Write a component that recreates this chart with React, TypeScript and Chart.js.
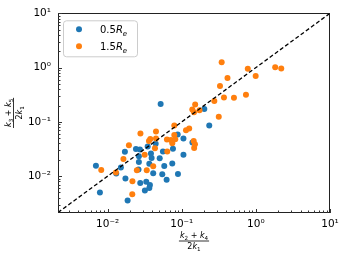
import React, { useEffect, useRef } from 'react';
import { Chart, registerables } from 'chart.js';

Chart.register(...registerables);

const AXIS_MIN = 0.00214;
const AXIS_MAX = 10;
const majorTicks = [0.01, 0.1, 1, 10];
const tickLabels = ['10⁻²', '10⁻¹', '10⁰', '10¹'];

const seriesNames = ['0.5', '1.5'];
const seriesColors = ['#1f77b4', '#ff7f0e'];

const blueX = [0.0519, 0.00695, 0.00787, 0.0186, 0.0171, 0.0151, 0.01306, 0.01738, 0.0241, 0.0273, 0.0264, 0.0264, 0.0261, 0.02754, 0.0318, 0.0332, 0.0372, 0.0365, 0.0347, 0.0384, 0.0392, 0.0365, 0.0412, 0.0445, 0.0504, 0.0557, 0.0581, 0.0546, 0.0625, 0.0745, 0.0761, 0.0881, 0.0889, 0.1054, 0.1054, 0.1393, 0.2014, 0.235];
const blueY = [0.213, 0.01556, 0.00501, 0.00355, 0.0283, 0.01445, 0.01125, 0.00904, 0.0318, 0.0309, 0.0233, 0.01815, 0.0133, 0.0075, 0.00544, 0.0079, 0.0069, 0.00604, 0.0352, 0.0261, 0.0217, 0.0169, 0.01135, 0.0394, 0.0214, 0.0286, 0.01538, 0.0108, 0.0086, 0.01718, 0.0321, 0.0588, 0.01101, 0.0492, 0.0248, 0.0416, 0.173, 0.0853];

const orangeX = [0.0082, 0.01294, 0.01633, 0.01937, 0.0277, 0.0216, 0.0215, 0.0248, 0.0337, 0.0316, 0.0361, 0.0376, 0.0449, 0.0449, 0.0435, 0.0412, 0.0631, 0.0637, 0.0714, 0.0745, 0.0793, 0.0793, 0.0817, 0.114, 0.126, 0.1387, 0.145, 0.147, 0.1507, 0.3455, 0.778, 0.994, 1.822, 2.2, 0.414, 0.3278, 0.371, 0.506, 0.735, 0.275, 0.1517, 0.1734, 0.1462, 0.3157];
const orangeY = [0.01303, 0.01172, 0.02075, 0.0372, 0.061, 0.00807, 0.00464, 0.01286, 0.01286, 0.0248, 0.0443, 0.0485, 0.0665, 0.0496, 0.0327, 0.01517, 0.0475, 0.0286, 0.0465, 0.0405, 0.0853, 0.0573, 0.0478, 0.07, 0.0752, 0.1687, 0.0443, 0.0331, 0.0388, 1.253, 0.949, 0.701, 1.01, 0.965, 0.645, 0.457, 0.281, 0.279, 0.3158, 0.243, 0.2085, 0.164, 0.1509, 0.1236];

type Part = { t: string; it?: boolean; sub?: boolean };
const FONT = '"DejaVu Sans"';

const xTitleNum: Part[] = [{ t: 'k', it: true }, { t: '2', sub: true }, { t: ' + ' }, { t: 'k', it: true }, { t: '4', sub: true }];
const yTitleNum: Part[] = [{ t: 'k', it: true }, { t: '3', sub: true }, { t: ' + ' }, { t: 'k', it: true }, { t: '5', sub: true }];
const titleDen: Part[] = [{ t: '2' }, { t: 'k', it: true }, { t: '1', sub: true }];

function partFont(p: Part, size: number) {
  return `${p.it ? 'italic ' : ''}${p.sub ? (size * 0.7).toFixed(2) : size}px ${FONT}`;
}

function measureParts(ctx: CanvasRenderingContext2D, parts: Part[], size: number) {
  let w = 0;
  for (const p of parts) {
    ctx.font = partFont(p, size);
    w += ctx.measureText(p.t).width;
  }
  return w;
}

function drawParts(ctx: CanvasRenderingContext2D, parts: Part[], x0: number, baseline: number, size: number) {
  let x = x0;
  ctx.textAlign = 'left';
  ctx.textBaseline = 'alphabetic';
  for (const p of parts) {
    ctx.font = partFont(p, size);
    ctx.fillText(p.t, x, baseline + (p.sub ? size * 0.25 : 0));
    x += ctx.measureText(p.t).width;
  }
}

function drawFraction(ctx: CanvasRenderingContext2D, num: Part[], den: Part[], size: number) {
  const wn = measureParts(ctx, num, size);
  const wd = measureParts(ctx, den, size);
  const w = Math.max(wn, wd) + 2;
  ctx.fillStyle = '#000';
  drawParts(ctx, num, -wn / 2, -3, size);
  drawParts(ctx, den, -wd / 2, 8, size);
  ctx.fillRect(-w / 2, -0.4, w, 0.8);
}

const decorPlugin = {
  id: 'decor',
  afterDraw(chart: any) {
    const { ctx, chartArea } = chart;
    const { left, right, top, bottom } = chartArea;
    const xs = chart.scales.x;
    const ys = chart.scales.y;
    ctx.save();
    // frame
    ctx.strokeStyle = '#222';
    ctx.lineWidth = 1;
    ctx.strokeRect(Math.round(left) + 0.5, Math.round(top) + 0.5, Math.round(right - left) - 1, Math.round(bottom - top));
    // inward ticks
    const lo = Math.floor(Math.log10(AXIS_MIN));
    const hi = Math.ceil(Math.log10(AXIS_MAX));
    ctx.strokeStyle = '#333';
    ctx.beginPath();
    for (let k = lo; k <= hi; k++) {
      for (let m = 1; m <= 9; m++) {
        const v = m * Math.pow(10, k);
        if (v < AXIS_MIN || v > AXIS_MAX * 1.0001) continue;
        const len = m === 1 ? 4 : 2.5;
        const px = Math.round(xs.getPixelForValue(v)) + 0.5;
        ctx.moveTo(px, Math.round(bottom));
        ctx.lineTo(px, Math.round(bottom) - len);
        const py = Math.round(ys.getPixelForValue(v)) + 0.5;
        ctx.moveTo(Math.round(left), py);
        ctx.lineTo(Math.round(left) + len, py);
      }
    }
    ctx.stroke();

    // legend
    const bx = left + 5.5, by = top + 7.5, bw = 74, bh = 36, r = 3;
    ctx.fillStyle = 'rgba(255,255,255,0.8)';
    ctx.strokeStyle = '#cccccc';
    ctx.lineWidth = 1;
    ctx.beginPath();
    ctx.moveTo(bx + r, by);
    ctx.lineTo(bx + bw - r, by);
    ctx.arcTo(bx + bw, by, bx + bw, by + r, r);
    ctx.lineTo(bx + bw, by + bh - r);
    ctx.arcTo(bx + bw, by + bh, bx + bw - r, by + bh, r);
    ctx.lineTo(bx + r, by + bh);
    ctx.arcTo(bx, by + bh, bx, by + bh - r, r);
    ctx.lineTo(bx, by + r);
    ctx.arcTo(bx, by, bx + r, by, r);
    ctx.closePath();
    ctx.fill();
    ctx.stroke();
    seriesNames.forEach((name, i) => {
      const my = top + 16 + i * 17;
      ctx.fillStyle = seriesColors[i];
      ctx.beginPath();
      ctx.arc(left + 21, my, 3, 0, Math.PI * 2);
      ctx.fill();
      ctx.fillStyle = '#000';
      drawParts(ctx, [{ t: name }, { t: 'R', it: true }, { t: 'e', it: true, sub: true }], left + 42, my + 3.7, 10);
    });

    // x title
    ctx.save();
    ctx.translate((left + right) / 2, bottom + 28.5);
    drawFraction(ctx, xTitleNum, titleDen, 8);
    ctx.restore();
    // y title
    ctx.save();
    ctx.translate(13.5, (top + bottom) / 2);
    ctx.rotate(-Math.PI / 2);
    drawFraction(ctx, yTitleNum, titleDen, 8);
    ctx.restore();

    ctx.restore();
  },
};

function labelFor(v: number) {
  const i = majorTicks.findIndex((t) => Math.abs(Math.log10(t) - Math.log10(v)) < 1e-6);
  return i >= 0 ? tickLabels[i] : '';
}

export default function App() {
  const ref = useRef<HTMLCanvasElement | null>(null);
  useEffect(() => {
    if (!ref.current) return;
    const axisCommon = (isX: boolean) => ({
      type: 'logarithmic' as const,
      min: AXIS_MIN,
      max: AXIS_MAX,
      position: isX ? 'bottom' : 'left',
      grid: { display: false, drawTicks: false },
      border: { display: false },
      afterBuildTicks: (scale: any) => {
        scale.ticks = majorTicks.map((v) => ({ value: v, major: true }));
      },
      afterFit: (scale: any) => {
        if (isX) scale.height = 42.5;
        else scale.width = 58;
      },
      ticks: {
        autoSkip: false,
        maxRotation: 0,
        minRotation: 0,
        padding: isX ? 5 : 7,
        color: '#000',
        font: { family: 'DejaVu Sans', size: 10.5 },
        callback: (v: any) => labelFor(Number(v)),
      },
    });
    const chart = new Chart(ref.current, {
      type: 'scatter',
      data: {
        datasets: [
          {
            type: 'line',
            label: 'y = x',
            data: [{ x: AXIS_MIN, y: AXIS_MIN }, { x: AXIS_MAX, y: AXIS_MAX }],
            borderColor: '#000',
            borderWidth: 1.3,
            borderDash: [4, 2.4],
            pointRadius: 0,
            fill: false,
            order: 0,
          } as any,
          {
            label: seriesNames[1] + 'R_e',
            data: orangeX.map((x, i) => ({ x, y: orangeY[i] })),
            backgroundColor: seriesColors[1],
            borderWidth: 0,
            pointRadius: 3,
            pointHoverRadius: 3,
            order: 1,
          },
          {
            label: seriesNames[0] + 'R_e',
            data: blueX.map((x, i) => ({ x, y: blueY[i] })),
            backgroundColor: seriesColors[0],
            borderWidth: 0,
            pointRadius: 3,
            pointHoverRadius: 3,
            order: 2,
          },
        ],
      },
      options: {
        animation: false,
        responsive: false,
        events: [],
        layout: { padding: { top: 9, right: 16, left: 0, bottom: 0 } },
        plugins: { legend: { display: false }, tooltip: { enabled: false } },
        scales: {
          x: axisCommon(true) as any,
          y: axisCommon(false) as any,
        },
      },
      plugins: [decorPlugin],
    });
    return () => chart.destroy();
  }, []);
  return (
    <div style={{ position: 'absolute', left: 0, top: 0, width: 346, height: 255, background: '#fff' }}>
      <canvas ref={ref} width={346} height={255} />
    </div>
  );
}
